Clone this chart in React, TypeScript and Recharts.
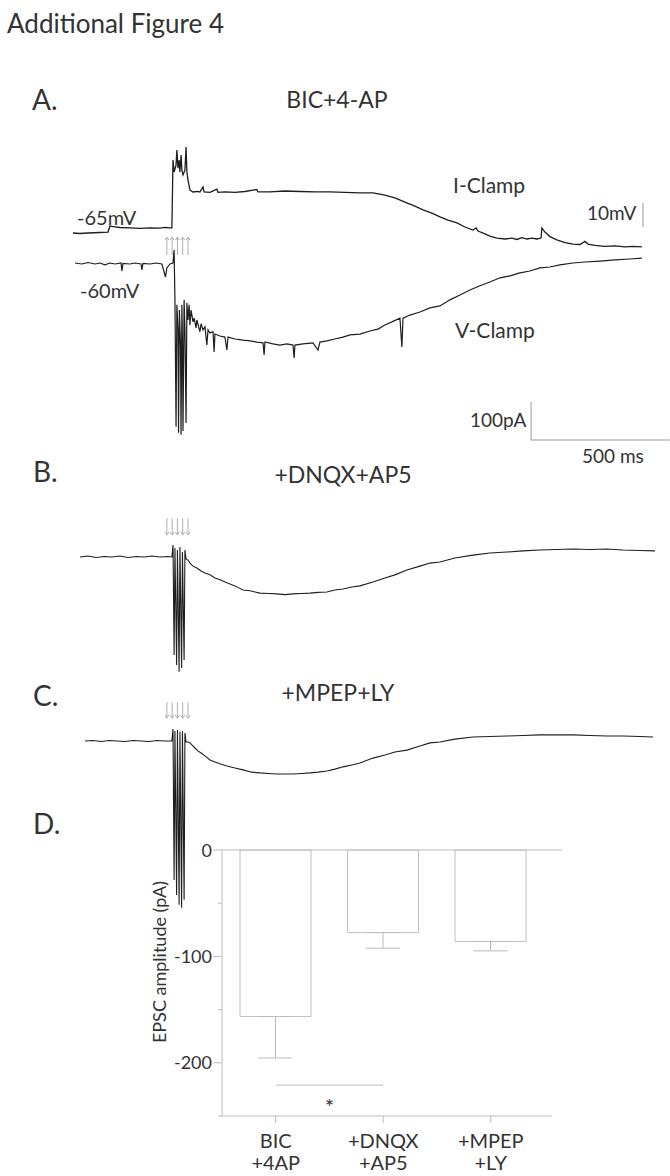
import React from 'react';
import {
  LineChart,
  Line,
  XAxis,
  YAxis,
  ReferenceLine,
  BarChart,
  Bar,
  ErrorBar,
} from 'recharts';

// traces: [time in ms from trace start, value]
const iClampTrace: [number, number][] = [
  [0, -65], [25, -65.2], [54, -65], [97, -64.8], [126, -64.6], [133, -62.1], [144, -62.3],
  [169, -62.7], [205, -62.9], [241, -63.1], [277, -62.9], [313, -63], [331, -62.7], [349, -62.9],
  [356, -62.9], [360, -34.6], [364, -39.6], [371, -36.7], [374, -30.4], [378, -38], [382, -34.6],
  [385, -39.6], [389, -32.5], [392, -38.8], [396, -40.8], [403, -38.8], [407, -29.2], [410, -39.6],
  [414, -42.9], [421, -47.1], [432, -47.9], [446, -47.7], [457, -47.9], [468, -45.8], [472, -47.9],
  [493, -48.1], [518, -46.7], [522, -48.1], [547, -47.9], [583, -48.1], [619, -47.7], [662, -46.9],
  [666, -47.9], [709, -47.9], [763, -47.5], [817, -47.7], [871, -47.9], [925, -47.9], [979, -48.1],
  [1033, -48.3], [1080, -48.3], [1123, -49.2], [1159, -50.4], [1195, -52.1], [1231, -53.8],
  [1260, -55.4], [1292, -56.7], [1321, -58.3], [1350, -59.6], [1382, -60.8], [1411, -62.5],
  [1440, -63.8], [1451, -62.9], [1458, -64.2], [1483, -65.4], [1501, -66.3], [1526, -67.1],
  [1555, -67.5], [1580, -67.1], [1598, -67.7], [1616, -66.9], [1634, -67.5], [1652, -67.1],
  [1670, -67.5], [1685, -67.1], [1688, -62.9], [1699, -64.6], [1717, -66.5], [1742, -67.9],
  [1771, -69], [1800, -69.6], [1825, -69.8], [1843, -68.5], [1854, -69.6], [1879, -70.2],
  [1915, -70.6], [1951, -70.4], [1987, -70.8], [2016, -70.6], [2048, -70.8],
];

const vClampTrace: [number, number][] = [
  [7, 0], [32, -2.6], [54, 1.3], [79, -2.6], [97, 0], [115, -5], [133, 0], [151, -2.6], [173, 0],
  [176, -21], [180, -1.3], [205, -2.6], [223, 0], [245, -2.6], [248, -18], [252, -1.3], [277, -2.6],
  [299, 0], [320, -2.6], [328, -23.7], [333, -36.8], [338, -13], [349, -2.6], [360, 0], [364, 34],
  [367, -97], [371, -431], [374, -110], [378, -176], [380, -447], [383, -124], [387, -215],
  [389, -452], [392, -110], [394, -203], [396, -442], [400, -97], [403, -176], [407, -421],
  [410, -105], [414, -150], [418, -110], [421, -163], [425, -124], [432, -155], [436, -145],
  [443, -171], [446, -150], [457, -181], [461, -160], [468, -176], [475, -168], [482, -216],
  [486, -176], [493, -184], [504, -181], [508, -234], [511, -187], [529, -192], [547, -195],
  [554, -229], [558, -195], [583, -200], [612, -203], [637, -205], [662, -208], [684, -210],
  [688, -242], [691, -208], [720, -213], [745, -216], [770, -213], [792, -216], [796, -250],
  [799, -216], [828, -213], [864, -210], [882, -229], [889, -208], [914, -205], [943, -200],
  [972, -195], [997, -189], [1033, -187], [1069, -179], [1098, -174], [1123, -163], [1148, -155],
  [1177, -145], [1184, -221], [1188, -145], [1213, -137], [1249, -129], [1285, -118], [1321, -113],
  [1357, -97], [1393, -84], [1429, -71], [1465, -60], [1501, -50], [1537, -39], [1573, -34],
  [1609, -26], [1645, -21], [1681, -13], [1717, -10.5], [1753, -5], [1800, 0], [1843, 2.6],
  [1897, 5], [1951, 8], [2005, 10.5], [2048, 13],
];

const dnqxTrace: [number, number][] = [
  [25, 0], [54, 2.6], [83, -1.3], [112, 1.3], [140, 0], [169, 2.6], [198, -1.3], [227, 1.3],
  [256, 0], [284, 2.6], [313, 0], [342, 1.3], [356, 0], [360, 31.6], [364, -258], [367, 23.7],
  [373, -284], [376, 18.4], [382, -302], [385, 26], [391, -292], [394, 13], [400, -271],
  [403, 18.4], [407, -5], [414, -8], [421, -16], [432, -24], [446, -29], [461, -37], [475, -42],
  [493, -47], [511, -55], [529, -60], [554, -68], [583, -76], [612, -87], [637, -89], [673, -95],
  [702, -96], [734, -97], [763, -99], [792, -97], [824, -96], [853, -95], [882, -93], [914, -92],
  [943, -87], [972, -84], [1004, -79], [1033, -76], [1080, -66], [1123, -55], [1159, -47],
  [1202, -34], [1249, -24], [1285, -16], [1321, -13], [1375, -2.6], [1440, 5], [1501, 10.5],
  [1562, 13], [1620, 16], [1681, 18.4], [1742, 19.7], [1800, 21], [1861, 19.7], [1922, 21],
  [1980, 18.4], [2041, 17], [2095, 16],
];

const mpepTrace: [number, number][] = [
  [43, 0], [72, 1.3], [101, -1.3], [130, 1.3], [158, 0], [187, -1.3], [216, 1.3], [245, 0],
  [274, -1.3], [302, 1.3], [331, 0], [356, 0], [360, 31.6], [364, -366], [367, 26], [373, -405],
  [376, 29], [382, -431], [385, 24], [391, -439], [394, 26], [400, -418], [403, 21], [407, -2.6],
  [414, -2.6], [421, -5], [428, -10.5], [439, -18.4], [450, -26], [461, -31.6], [475, -39],
  [493, -50], [511, -55], [529, -60], [554, -66], [583, -71], [612, -76], [644, -82], [673, -84],
  [702, -85.5], [734, -87], [763, -87], [792, -87], [824, -85.5], [853, -84], [882, -82],
  [914, -79], [943, -74], [972, -68], [1004, -63], [1033, -58], [1080, -45], [1123, -37],
  [1159, -29], [1202, -24], [1249, -13], [1285, -5], [1321, -2.6], [1375, 5], [1440, 10.5],
  [1501, 12], [1562, 13], [1620, 14.5], [1681, 16], [1742, 16], [1800, 16], [1861, 14.5],
  [1922, 13], [1980, 13], [2041, 12], [2088, 10.5],
];

const stimTimes = [338, 357, 376, 395, 414];

const epscCategories = ['BIC +4AP', '+DNQX +AP5', '+MPEP +LY'];
const epscMeans = [-156.5, -77.6, -86];
const epscErrors = [39, 14.7, 8.8];
const epscTicks = [0, -50, -100, -150, -200, -250];

const INK = '#333';
const GREY = '#bdbdbd';
const FONT = 'Lato, sans-serif';

// trace chart geometry
const TRACE_H = 920;
const MS_PER_PX = 3.6;
const X0 = 73;
const timeDomain = [-X0 * MS_PER_PX, (670 - X0) * MS_PER_PX];
const yDomain = (refPx: number, pxPerUnit: number, ref = 0) => [
  ref - (TRACE_H - refPx) / pxPerUnit,
  ref + refPx / pxPerUnit,
];

const toPoints = (arr: [number, number][]) => arr.map(([t, v]) => ({ t, v }));

const arrowShape = (p: any) => {
  const { x1, y1, x2, y2 } = p;
  const dir = y2 > y1 ? 1 : -1;
  return (
    <g>
      <line x1={x1} y1={y1} x2={x2} y2={y2} stroke="#b0b0b0" strokeWidth={1} />
      <path
        d={`M${x2 - 2},${y2 - dir * 3} L${x2},${y2} L${x2 + 2},${y2 - dir * 3}`}
        fill="none"
        stroke="#b0b0b0"
        strokeWidth={1}
      />
    </g>
  );
};

const traceLine = (id: string, trace: [number, number][], width: number) => (
  <Line yAxisId={id} data={toPoints(trace)} dataKey="v" type="linear" dot={false} activeDot={false}
    stroke="#1e1e1e" strokeWidth={width} isAnimationActive={false} />
);

const Traces = () => (
  <LineChart width={670} height={TRACE_H} margin={{ top: 0, right: 0, bottom: 0, left: 0 }}>
    <XAxis type="number" dataKey="t" domain={timeDomain} hide allowDataOverflow />
    <YAxis yAxisId="mv" type="number" domain={yDomain(233, 2.4, -65)} hide allowDataOverflow />
    <YAxis yAxisId="pa" type="number" domain={yDomain(263, 0.38)} hide allowDataOverflow />
    <YAxis yAxisId="pb" type="number" domain={yDomain(557, 0.38)} hide allowDataOverflow />
    <YAxis yAxisId="pc" type="number" domain={yDomain(741, 0.38)} hide allowDataOverflow />
    {traceLine('mv', iClampTrace, 1.3)}
    {traceLine('pa', vClampTrace, 1.2)}
    {traceLine('pb', dnqxTrace, 1.1)}
    {traceLine('pc', mpepTrace, 1.1)}
    {/* scale bars */}
    <ReferenceLine yAxisId="mv" ifOverflow="visible" stroke="#999"
      segment={[{ x: 2052, y: -62.5 }, { x: 2052, y: -52.5 }]} />
    <ReferenceLine yAxisId="pa" ifOverflow="visible" stroke="#999"
      segment={[{ x: 1649, y: -365.8 }, { x: 1649, y: -465.8 }]} />
    <ReferenceLine yAxisId="pa" ifOverflow="visible" stroke="#999"
      segment={[{ x: 1649, y: -465.8 }, { x: 2149, y: -465.8 }]} />
    {/* stimulus arrows */}
    {stimTimes.map(s => (
      <ReferenceLine key={`a${s}`} yAxisId="pa" ifOverflow="visible" shape={arrowShape}
        segment={[{ x: s, y: 21 }, { x: s, y: 68 }]} />
    ))}
    {stimTimes.map(s => (
      <ReferenceLine key={`b${s}`} yAxisId="pb" ifOverflow="visible" shape={arrowShape}
        segment={[{ x: s, y: 102 }, { x: s, y: 58 }]} />
    ))}
    {stimTimes.map(s => (
      <ReferenceLine key={`c${s}`} yAxisId="pc" ifOverflow="visible" shape={arrowShape}
        segment={[{ x: s, y: 102 }, { x: s, y: 60 }]} />
    ))}
  </LineChart>
);

const epscData = epscCategories.map((name, i) => ({
  name,
  mean: epscMeans[i],
  err: [epscErrors[i], 0],
}));

const CategoryTick = (props: any) => {
  const { x, y, payload } = props;
  const [l1, l2] = String(payload.value).split(' ');
  return (
    <text textAnchor="middle" fill={INK} fontSize={20} fontFamily={FONT}>
      <tspan x={x} y={y + 23}>{l1}</tspan>
      <tspan x={x} y={y + 45}>{l2}</tspan>
    </text>
  );
};

const AmpTick = (props: any) => {
  const { x, y, payload } = props;
  const v = payload.value;
  const major = v % 100 === 0;
  return (
    <g>
      <line x1={x - (major ? 9 : 4)} y1={y} x2={x} y2={y} stroke={GREY} />
      {major && v !== -250 && (
        <text x={x - 10} y={y + 6.5} textAnchor="end" fill={INK} fontSize={18} fontFamily={FONT}>
          {v}
        </text>
      )}
    </g>
  );
};

const EpscBars = () => (
  <BarChart width={670} height={356} data={epscData}
    margin={{ top: 30, right: 118, bottom: 0, left: 162 }}>
    <ReferenceLine y={0} stroke={GREY} ifOverflow="visible"
      shape={(p: any) => (
        <line x1={Math.min(p.x1, p.x2)} y1={p.y1} x2={Math.max(p.x1, p.x2) + 10} y2={p.y2} stroke={GREY} />
      )} />
    <XAxis dataKey="name" height={60} padding={{ left: 0, right: 7.5 }} tickSize={7}
      axisLine={{ stroke: GREY }} tickLine={{ stroke: GREY }} tick={<CategoryTick />} interval={0} />
    <YAxis width={60} type="number" domain={[-250, 0]} ticks={epscTicks} interval={0}
      axisLine={{ stroke: GREY }} tickLine={false} tickSize={0} tickMargin={0} tick={<AmpTick />} />
    <Bar dataKey="mean" barSize={71} fill="#fff" stroke="#c2c2c2" strokeWidth={1} isAnimationActive={false}>
      <ErrorBar dataKey="err" width={17} stroke="#bbb" strokeWidth={1} direction="y" />
    </Bar>
    <ReferenceLine ifOverflow="visible" stroke={GREY}
      segment={[{ x: epscCategories[0], y: -221 }, { x: epscCategories[1], y: -221 }]}
      label={{ value: '*', position: 'bottom', offset: 14, fill: INK, fontSize: 22, fontFamily: FONT }} />
  </BarChart>
);

const T = (p: { x: number; y: number; s: number; a?: 'start' | 'middle' | 'end'; children: string }) => (
  <text x={p.x} y={p.y} fontSize={p.s} textAnchor={p.a || 'start'} fill={INK}>{p.children}</text>
);

const App = () => (
  <div style={{ position: 'absolute', left: 0, top: 0, width: 670, height: 1176, background: '#fff', overflow: 'hidden' }}>
    <div style={{ position: 'absolute', left: 0, top: 0 }}>
      <Traces />
    </div>
    <div style={{ position: 'absolute', left: 0, top: 820 }}>
      <EpscBars />
    </div>
    <svg width={670} height={1176} style={{ position: 'absolute', left: 0, top: 0, pointerEvents: 'none' }}
      fontFamily={FONT}>
      <T x={7} y={33} s={26}>Additional Figure 4</T>
      <T x={32} y={110} s={28}>A.</T>
      <T x={337} y={108} s={23} a="middle">BIC+4-AP</T>
      <T x={77} y={225} s={20}>-65mV</T>
      <T x={80} y={298} s={20}>-60mV</T>
      <T x={453} y={193} s={21}>I-Clamp</T>
      <T x={587} y={220} s={19}>10mV</T>
      <T x={455} y={338} s={21}>V-Clamp</T>
      <T x={470} y={427} s={19}>100pA</T>
      <T x={582} y={463} s={19}>500 ms</T>
      <T x={33} y={482} s={28}>B.</T>
      <T x={343} y={483} s={23} a="middle">+DNQX+AP5</T>
      <T x={33} y={706} s={28}>C.</T>
      <T x={338} y={701} s={23} a="middle">+MPEP+LY</T>
      <T x={33} y={834} s={28}>D.</T>
      <text transform="translate(166,962) rotate(-90)" textAnchor="middle" fontSize={18} fill={INK}>
        EPSC amplitude (pA)
      </text>
    </svg>
  </div>
);

export default App;
